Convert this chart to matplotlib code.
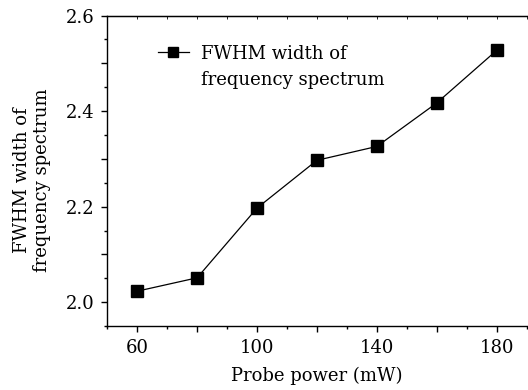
import matplotlib
matplotlib.use("Agg")
import matplotlib.pyplot as plt
from matplotlib.ticker import MultipleLocator, FixedFormatter, FixedLocator

power = [60, 80, 100, 120, 140, 160, 180]
fwhm = [2.023, 2.051, 2.197, 2.297, 2.326, 2.417, 2.527]
xtick_vals = [60, 80, 100, 120, 140, 160, 180]
xtick_text = ["60", "", "100", "", "140", "", "180"]
ytick_vals = [2.0, 2.1, 2.2, 2.3, 2.4, 2.5, 2.6]
ytick_text = ["2.0", "", "2.2", "", "2.4", "", "2.6"]

plt.rcParams["font.family"] = ["DejaVu Serif"]
plt.rcParams["font.size"] = 13

fig = plt.figure(figsize=(5.28, 3.90), dpi=100)
ax = fig.add_axes([0.2032, 0.164, 0.794, 0.796])

ax.plot(power, fwhm, color="black", lw=0.9, marker="s", ms=8.4,
        label="FWHM width of")

ax.set_xlim(50, 190)
ax.set_ylim(1.95, 2.6)
ax.spines["right"].set_visible(False)
for s in ax.spines.values():
    s.set_linewidth(1.0)

ax.xaxis.set_major_locator(FixedLocator(xtick_vals))
ax.xaxis.set_major_formatter(FixedFormatter(xtick_text))
ax.xaxis.set_minor_locator(MultipleLocator(10))
ax.yaxis.set_major_locator(FixedLocator(ytick_vals))
ax.yaxis.set_major_formatter(FixedFormatter(ytick_text))
ax.yaxis.set_minor_locator(MultipleLocator(0.05))
ax.tick_params(which="major", direction="out", length=4, width=1, pad=5)
ax.tick_params(which="minor", direction="out", length=2.2, width=1)

top = ax.secondary_xaxis("top")
top.xaxis.set_major_locator(MultipleLocator(10))
top.tick_params(direction="in", length=2, width=0.6, labeltop=False)

ax.set_xlabel("Probe power (mW)", labelpad=7)
ax.set_ylabel("FWHM width of\nfrequency spectrum", linespacing=1.1)
ax.yaxis.set_label_coords(-0.135, 0.47)

leg = ax.legend(loc="upper left", bbox_to_anchor=(0.104, 0.93), frameon=False,
                handlelength=1.7, handletextpad=0.7, markerscale=0.85,
                borderaxespad=0)
fig.canvas.draw()
bb = leg.get_texts()[0].get_window_extent().transformed(ax.transAxes.inverted())
ax.text(bb.x0, bb.y0 - 0.085, "frequency spectrum", transform=ax.transAxes,
        ha="left", va="bottom")

fig.savefig("out.png", dpi=100)
